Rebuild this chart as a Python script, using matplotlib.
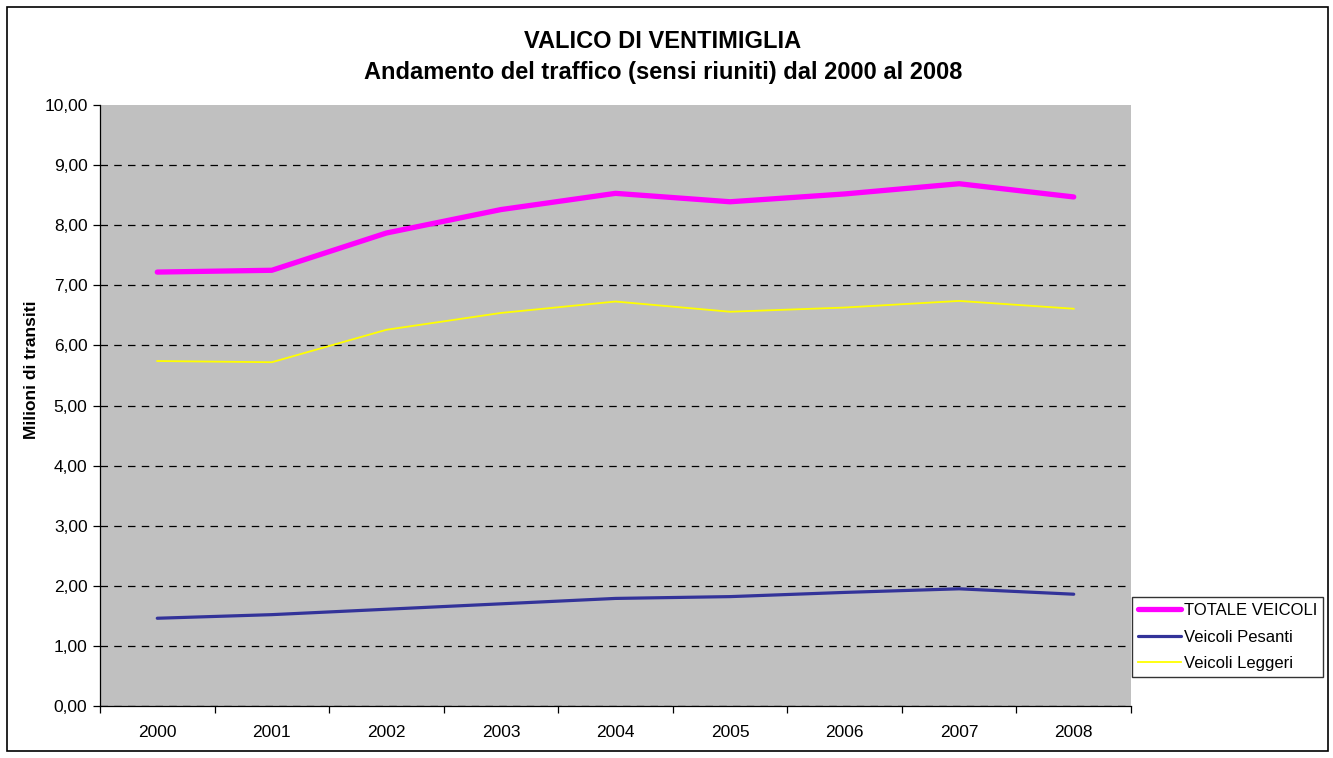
import matplotlib
matplotlib.use("Agg")
import matplotlib.pyplot as plt
from matplotlib.patches import Rectangle
from matplotlib.ticker import FixedLocator, FuncFormatter

years = ["2000", "2001", "2002", "2003", "2004", "2005", "2006", "2007", "2008"]
totale = [7.22, 7.25, 7.87, 8.26, 8.53, 8.39, 8.52, 8.69, 8.47]
pesanti = [1.46, 1.52, 1.61, 1.70, 1.79, 1.82, 1.89, 1.95, 1.86]
leggeri = [5.74, 5.72, 6.26, 6.54, 6.73, 6.56, 6.63, 6.74, 6.61]
y_ticks = [0, 1, 2, 3, 4, 5, 6, 7, 8, 9, 10]

plt.rcParams['font.family'] = ['Liberation Sans', 'DejaVu Sans']

fig = plt.figure(figsize=(13.33, 7.58), dpi=100)
fig.patches.append(Rectangle((7/1333, 7/758), 1321/1333, 744/758, transform=fig.transFigure,
                             fill=False, edgecolor='black', linewidth=1.2))

ax = fig.add_axes([100/1333, 52/758, 1031/1333, 601/758])
ax.set_facecolor('#C0C0C0')
x = list(range(len(years)))
ax.plot(x, totale, color='#FF00FF', linewidth=3.8, solid_capstyle='round', label='TOTALE VEICOLI', zorder=3)
ax.plot(x, pesanti, color='#333399', linewidth=2.3, solid_capstyle='round', label='Veicoli Pesanti', zorder=3)
ax.plot(x, leggeri, color='#FFFF00', linewidth=1.3, label='Veicoli Leggeri', zorder=3)

ax.set_xlim(-0.5, len(years) - 0.5)
ax.set_ylim(0, 10)
ax.set_yticks(y_ticks)
ax.yaxis.set_major_formatter(FuncFormatter(lambda v, p: f"{v:.2f}".replace('.', ',')))
ax.set_xticks(x)
ax.set_xticklabels(years)
ax.xaxis.set_minor_locator(FixedLocator([i - 0.5 for i in range(len(years) + 1)]))
ax.tick_params(axis='x', which='major', length=0, pad=14, labelsize=12.5)
ax.tick_params(axis='x', which='minor', length=5, direction='out', color='black', width=0.9)
ax.tick_params(axis='y', length=5, direction='out', color='black', width=0.9, labelsize=12.5, pad=4)
for s in ['top', 'right']:
    ax.spines[s].set_visible(False)
for s in ['left', 'bottom']:
    ax.spines[s].set_color('black')
    ax.spines[s].set_linewidth(0.9)
ax.grid(axis='y', color='black', linestyle=(0, (6, 5)), linewidth=0.9, zorder=1)
ax.get_ygridlines()[-1].set_visible(False)
ax.set_axisbelow(True)

fig.text(32/1333, 1 - 370/758, 'Milioni di transiti', rotation=90, ha='center', va='center',
         fontsize=12.5, fontweight='bold')
fig.text(663/1333, 1 - 42/758, 'VALICO DI VENTIMIGLIA', ha='center', va='center', fontsize=17, fontweight='bold')
fig.text(663/1333, 1 - 73/758, 'Andamento del traffico (sensi riuniti) dal 2000 al 2008', ha='center', va='center', fontsize=17, fontweight='bold')

leg = fig.legend(loc='upper left', bbox_to_anchor=(1132/1333, 1 - 597/758), frameon=True, fancybox=False,
                 edgecolor='black', fontsize=12, handlelength=2.6, handletextpad=0.15,
                 borderpad=0.35, labelspacing=0.7, borderaxespad=0)
leg.get_frame().set_linewidth(1.0)

fig.savefig('out.png', dpi=100)
